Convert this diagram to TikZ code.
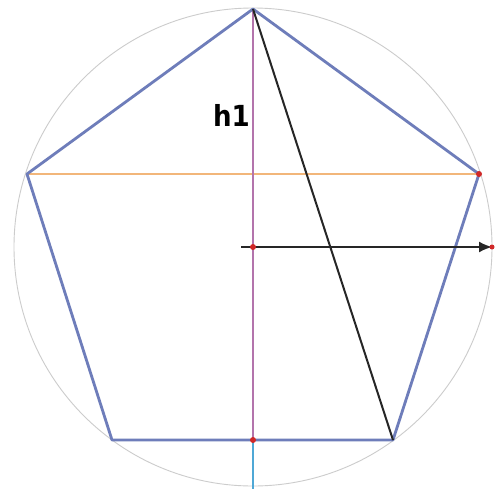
\documentclass[tikz,border=0pt]{standalone}
\usepackage{fontspec}
\newfontfamily\labfont{DejaVu Sans Condensed}
\usetikzlibrary{arrows.meta}
\definecolor{pentblue}{HTML}{6E7DBA}
\definecolor{vpurple}{HTML}{B374AC}
\definecolor{horange}{HTML}{F2B67A}
\definecolor{ccyan}{HTML}{4FA8D6}
\definecolor{dotred}{HTML}{D02828}
\tikzset{
  pent/.style={draw=pentblue, line width=2.8pt, line join=round},
  dotnode/.style={circle, fill=dotred, inner sep=0pt, minimum size=6pt},
  lab/.style={font=\labfont\bfseries\fontsize{29}{29}\selectfont, inner sep=0pt}
}
\begin{document}
\begin{tikzpicture}[x=1pt,y=-1pt]
\useasboundingbox (0,0) rectangle (496,488);
\fill[white] (0,0) rectangle (496,488);
\coordinate (C) at (253,247);
\draw[gray!40, line width=0.9pt] (C) circle[radius=239];
\coordinate (T) at (253,9);
\coordinate (R) at (479,174);
\coordinate (BR) at (393,440);
\coordinate (BL) at (112,440);
\coordinate (L) at (27,174);
\coordinate (M) at (253,440);
\coordinate (Bot) at (253,490);
\coordinate (A0) at (241,247);
\coordinate (A1) at (492,247);
\draw[horange, line width=2pt] (L) -- (R);
\draw[ccyan, line width=2.2pt] (M) -- (Bot);
\draw[vpurple, line width=2.4pt] (T) -- (M);
\draw[pent] (T) -- (R) -- (BR) -- (BL) -- (L) -- cycle;
\draw[black!85, line width=2pt] (T) -- (BR);
\draw[black!85, line width=1.8pt, -{Latex[length=13pt,width=11pt]}] (A0) -- (A1);
\node[dotnode] (dR) at (R) {};
\node[dotnode] (dC) at (C) {};
\node[dotnode] (dM) at (M) {};
\node[dotnode, minimum size=5pt] (dA) at (A1) {};
\node[lab, anchor=south east] (h1) at (250,127) {h1};
\end{tikzpicture}
\end{document}
